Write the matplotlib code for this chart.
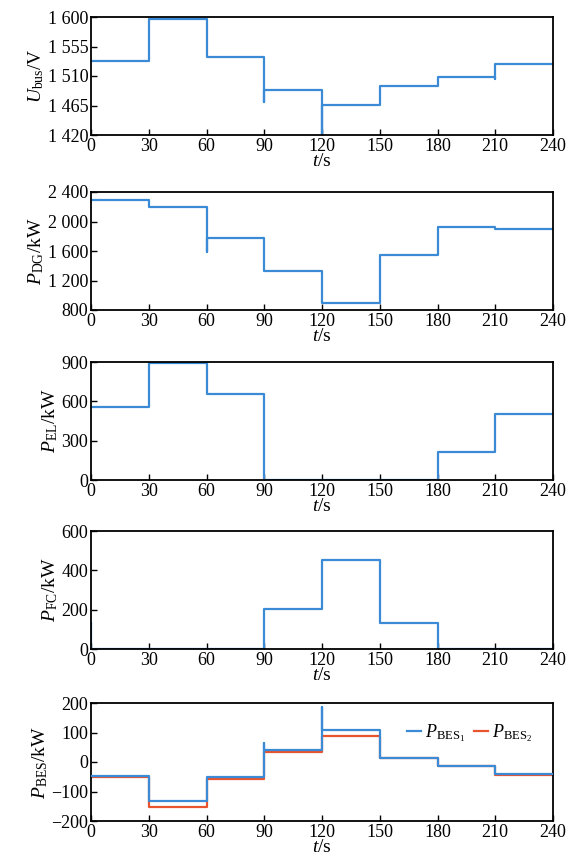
import matplotlib
matplotlib.use("Agg")
import matplotlib.pyplot as plt
import numpy as np

plt.rcParams['font.family'] = ['Liberation Serif', 'DejaVu Serif']
plt.rcParams['mathtext.fontset'] = 'custom'
plt.rcParams['mathtext.rm'] = 'Liberation Serif'
plt.rcParams['mathtext.it'] = 'Liberation Serif:italic'

blue = '#3a8ad6'
red = '#e8542e'

# segment boundaries (s)
t_edges = [0, 30, 60, 90, 120, 150, 180, 210, 240]

# step levels for each 30 s interval
u_bus = [1533, 1597, 1539, 1489, 1466, 1495, 1509, 1528]
p_dg = [2290, 2202, 1783, 1333, 897, 1540, 1924, 1893]
p_el = [555, 890, 655, 0, 0, 0, 215, 502]
p_fc = [0, 0, 0, 205, 453, 133, 0, 0]
p_bes1 = [-46, -132, -52, 39, 108, 15, -12, -40]
p_bes2 = [-52, -153, -59, 33, 88, 13, -14, -44]

# short transients at switching instants (time, value)
u_spikes = [(90, 1471), (120, 1420), (210, 1505)]
dg_spikes = [(60, 1590)]
fc_spikes = [(0, 130)]
bes_spikes = [(90, 66), (120, 186)]

ylims = [(1420, 1600), (800, 2400), (0, 900), (0, 600), (-200, 200)]
yticks = [[1420, 1465, 1510, 1555, 1600],
          [800, 1200, 1600, 2000, 2400],
          [0, 300, 600, 900],
          [0, 200, 400, 600],
          [-200, -100, 0, 100, 200]]
ytick_labels = [['1 420', '1 465', '1 510', '1 555', '1 600'],
                ['800', '1 200', '1 600', '2 000', '2 400'],
                ['0', '300', '600', '900'],
                ['0', '200', '400', '600'],
                ['\u2212200', '\u2212100', '0', '100', '200']]
ylabels = [r'$U_{\mathrm{bus}}$/V', r'$P_{\mathrm{DG}}$/kW', r'$P_{\mathrm{EL}}$/kW',
           r'$P_{\mathrm{FC}}$/kW', r'$P_{\mathrm{BES}}$/kW']
xticks = [0, 30, 60, 90, 120, 150, 180, 210, 240]


def step_xy(levels, spikes=()):
    xs, ys = [], []
    for i, v in enumerate(levels):
        t0, t1 = t_edges[i], t_edges[i + 1]
        for ts, vs in spikes:
            if ts == t0:
                xs += [t0, t0]
                ys += [vs, v]
        xs += [t0, t1]
        ys += [v, v]
    return np.array(xs), np.array(ys)


fig = plt.figure(figsize=(5.68, 8.58), dpi=100)
tops = [17, 192, 362, 531, 703]
axes = []
for top in tops:
    ax = fig.add_axes([91 / 568, 1 - (top + 118) / 858, 462 / 568, 118 / 858])
    axes.append(ax)

series = [(u_bus, u_spikes), (p_dg, dg_spikes), (p_el, ()), (p_fc, fc_spikes)]
for ax, (lv, sp) in zip(axes[:4], series):
    x, y = step_xy(lv, sp)
    ax.plot(x, y, color=blue, lw=1.6)

x1, y1 = step_xy(p_bes1, bes_spikes)
x2, y2 = step_xy(p_bes2)
axes[4].plot(x1, y1, color=blue, lw=1.6, label=r'$P_{\mathrm{BES}_1}$', zorder=3)
axes[4].plot(x2, y2, color=red, lw=1.6, label=r'$P_{\mathrm{BES}_2}$', zorder=2)
axes[4].legend(loc='upper right', bbox_to_anchor=(0.99, 0.97), ncol=2, frameon=False,
               fontsize=13, handlelength=0.8, handletextpad=0.2, columnspacing=0.5)

for i, ax in enumerate(axes):
    ax.set_xlim(0, 240)
    ax.set_ylim(*ylims[i])
    ax.set_xticks(xticks)
    ax.set_yticks(yticks[i])
    ax.set_yticklabels(ytick_labels[i])
    ax.tick_params(direction='in', labelsize=13, length=4, width=1, pad=2)
    for s in ax.spines.values():
        s.set_linewidth(1.3)
    ax.set_xlabel(r'$t$/s', fontsize=14, labelpad=-1)
    ax.set_ylabel(ylabels[i], fontsize=14, labelpad=1)

fig.savefig('out.png', dpi=100)
